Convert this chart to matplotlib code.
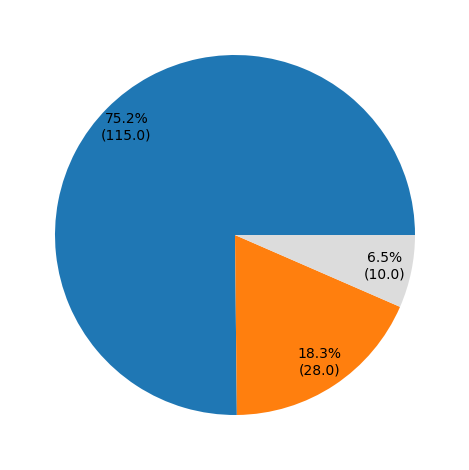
import matplotlib
matplotlib.use("Agg")
import matplotlib.pyplot as plt

labels = ["A", "B", "C"]
values = [115, 28, 10]
colors = ["#1f77b4", "#ff7f0e", "#dcdcdc"]

total = sum(values)


def fmt(pct):
    return f"{pct:.1f}%\n({pct * total / 100:.1f})"


fig = plt.figure(figsize=(4.69, 4.70), dpi=100)
ax = fig.add_axes([0, 0, 1, 1])
ax.pie(values, colors=colors, autopct=fmt, pctdistance=0.85)
ax.set_aspect("auto")
ax.set_xlim(-235 / 180, 234 / 180)
ax.set_ylim(-235 / 180, 235 / 180)
ax.axis("off")
fig.savefig("out.png", dpi=100)
